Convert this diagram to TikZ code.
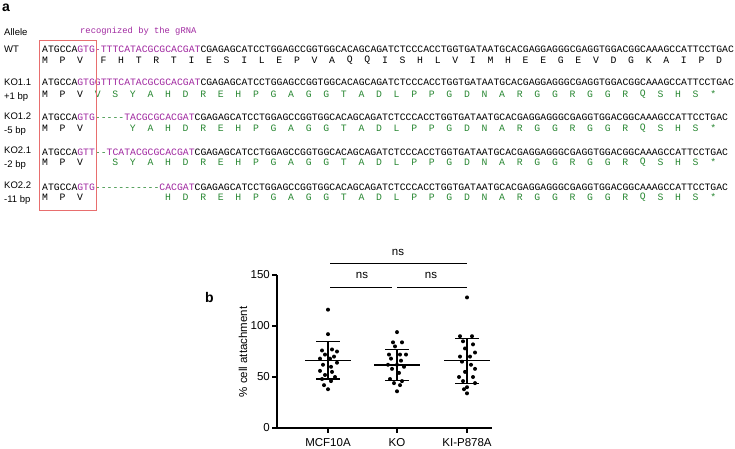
\documentclass[tikz,border=0pt]{standalone}
\usepackage{fontspec}
\setmainfont{Liberation Sans}
\setmonofont{Liberation Mono}
\usetikzlibrary{positioning}
\definecolor{grnamag}{RGB}{160,40,160}
\definecolor{aagreen}{RGB}{40,135,50}
\definecolor{boxred}{RGB}{232,110,110}
\tikzset{
  seq/.style={anchor=west, inner sep=0pt, font=\fontsize{9.77}{10}\ttfamily},
  aa/.style={inner sep=0pt, font=\fontsize{9.77}{10}\ttfamily},
  lbl/.style={anchor=west, inner sep=0pt, font=\fontsize{9.5}{10}\selectfont},
  tick/.style={anchor=east, inner sep=0pt, font=\fontsize{11.5}{12}\selectfont},
  axtxt/.style={font=\fontsize{11.5}{12}\selectfont},
  dot/.style={circle, fill=black, inner sep=0pt, minimum size=4pt},
}
\newcommand{\cw}{5.862}
\newcommand{\xo}{42}
\begin{document}
\begin{tikzpicture}[x=1pt, y=-1pt]
  \useasboundingbox (0,0) rectangle (735,449);
  \node[anchor=west, inner sep=0pt, font=\fontsize{14}{15}\bfseries] (pa) at (2,8) {a};
  \node[lbl] (allele) at (4,32) {Allele};
  \node[seq, text=grnamag, font=\fontsize{8.8}{9}\ttfamily] (grna) at (80,31) {recognized by the gRNA};

  % --- sequences ---
  \node[lbl] (wt) at (4,49) {WT};
  \node[seq] (wtdna) at (\xo,49) {ATGCCA\textcolor{grnamag}{GTG-TTTCATACGCGCACGAT}CGAGAGCATCCTGGAGCCGGTGGCACAGCAGATCTCCCACCTGGTGATAATGCACGAGGAGGGCGAGGTGGACGGCAAAGCCATTCCTGAC};
  \node[lbl] (ko11) at (4,82) {KO1.1};
  \node[lbl] (ko11b) at (4,97) {+1 bp};
  \node[seq] (ko11dna) at (\xo,82) {ATGCCA\textcolor{grnamag}{GTGGTTTCATACGCGCACGAT}CGAGAGCATCCTGGAGCCGGTGGCACAGCAGATCTCCCACCTGGTGATAATGCACGAGGAGGGCGAGGTGGACGGCAAAGCCATTCCTGAC};
  \node[lbl] (ko12) at (4,116) {KO1.2};
  \node[lbl] (ko12b) at (4,131) {-5 bp};
  \node[seq] (ko12dna) at (\xo,117) {ATGCCA\textcolor{grnamag}{GTG}\textcolor{aagreen}{-{}-{}-{}-{}-}\textcolor{grnamag}{TACGCGCACGAT}CGAGAGCATCCTGGAGCCGGTGGCACAGCAGATCTCCCACCTGGTGATAATGCACGAGGAGGGCGAGGTGGACGGCAAAGCCATTCCTGAC};
  \node[lbl] (ko21) at (4,150) {KO2.1};
  \node[lbl] (ko21b) at (4,165) {-2 bp};
  \node[seq] (ko21dna) at (\xo,152) {ATGCCA\textcolor{grnamag}{GTT}\textcolor{aagreen}{-{}-}\textcolor{grnamag}{TCATACGCGCACGAT}CGAGAGCATCCTGGAGCCGGTGGCACAGCAGATCTCCCACCTGGTGATAATGCACGAGGAGGGCGAGGTGGACGGCAAAGCCATTCCTGAC};
  \node[lbl] (ko22) at (4,185) {KO2.2};
  \node[lbl] (ko22b) at (4,200) {-11 bp};
  \node[seq] (ko22dna) at (\xo,187) {ATGCCA\textcolor{grnamag}{GTG}\textcolor{aagreen}{-{}-{}-{}-{}-{}-{}-{}-{}-{}-{}-}\textcolor{grnamag}{CACGAT}CGAGAGCATCCTGGAGCCGGTGGCACAGCAGATCTCCCACCTGGTGATAATGCACGAGGAGGGCGAGGTGGACGGCAAAGCCATTCCTGAC};

  % --- translations ---
  \foreach \y in {60,94,128,162,197}
    \foreach \l [count=\i from 0] in {M,P,V}
      \node[aa] at ({\xo+(3*\i+0.5)*\cw},\y) {\l};
  \foreach \l [count=\i from 0] in {F,H,T,R,T,I,E,S,I,L,E,P,V,A,Q,Q,I,S,H,L,V,I,M,H,E,E,G,E,V,D,G,K,A,I,P,D}
    \node[aa] at ({\xo+(10+3*\i+0.5)*\cw},60) {\l};
  \foreach \y/\k in {94/0,128/2,162/1,197/4}
    \foreach \l [count=\i from 0] in {V,S,Y,A,H,D,R,E,H,P,G,A,G,G,T,A,D,L,P,P,G,D,N,A,R,G,G,R,G,G,R,Q,S,H,S,*} {
      \ifnum\i<\k\relax\else
        \node[aa, text=aagreen] at ({\xo+(9+3*\i+0.5)*\cw},\y) {\l};
      \fi
    }
  \draw[boxred, line width=0.9pt] (39,40) rectangle (96,210);

  % --- panel b ---
  \node[anchor=west, inner sep=0pt, font=\fontsize{14}{15}\bfseries] (pb) at (205,297) {b};
  \coordinate (origin) at (277,428);
  \coordinate (xend) at (492,428);
  \coordinate (ytop) at (277,275);
  \draw[line width=1.2pt] (ytop) -- (origin) -- (xend);
  \foreach \v in {0,50,100,150} {
    \draw[line width=1.2pt] (277,{428-1.02*\v}) -- (272,{428-1.02*\v});
    \node[tick] at (270,{428-1.02*\v}) {\v};
  }
  \node[rotate=90, axtxt] (ylab) at (243,352) {\% cell attachment};
  \foreach \x/\n in {328/MCF10A,397/KO,467/KI-P878A} {
    \draw[line width=1.2pt] (\x,428) -- (\x,433);
    \node[axtxt] at (\x,443) {\n};
  }
  % means and SD
  \foreach \x/\m/\lo/\hi in {328/66/48/85,397/62/47/77,467/66/44/88} {
    \draw[line width=1.6pt] ({\x-23},{428-1.02*\m}) -- ({\x+23},{428-1.02*\m});
    \draw[line width=1.1pt] (\x,{428-1.02*\lo}) -- (\x,{428-1.02*\hi});
    \draw[line width=1.1pt] ({\x-12},{428-1.02*\lo}) -- ({\x+12},{428-1.02*\lo});
    \draw[line width=1.1pt] ({\x-12},{428-1.02*\hi}) -- ({\x+12},{428-1.02*\hi});
  }
  % data points
  \foreach \dx/\v in {0/116,0/92,-6/76,4/77,9/75,-3/72,6/70,-8/68,2/68,9/64,-5/62,3/60,-8/56,4/55,-3/52,7/50,-6/48,3/46,-4/42,0/38}
    \node[dot] at ({328+\dx},{428-1.02*\v}) {};
  \foreach \dx/\v in {0/94,-4/84,5/84,-2/80,-8/72,3/72,9/72,-6/68,4/66,-9/62,0/62,7/60,-5/58,2/54,-7/48,5/46,-3/44,3/42,0/36}
    \node[dot] at ({397+\dx},{428-1.02*\v}) {};
  \foreach \dx/\v in {0/128,-7/90,5/90,-4/85,6/82,-2/78,8/74,-7/70,3/70,-5/65,4/62,8/58,-2/55,-8/50,6/50,-4/46,8/44,0/40,-3/38,0/34}
    \node[dot] at ({467+\dx},{428-1.02*\v}) {};
  % significance brackets
  \draw[line width=1pt] (330,263) -- (467,263);
  \node[axtxt] (ns1) at (398,252) {ns};
  \draw[line width=1pt] (330,287) -- (392,287);
  \draw[line width=1pt] (397,287) -- (467,287);
  \node[axtxt] (ns2) at (362,275) {ns};
  \node[axtxt] (ns3) at (431,275) {ns};
\end{tikzpicture}
\end{document}
